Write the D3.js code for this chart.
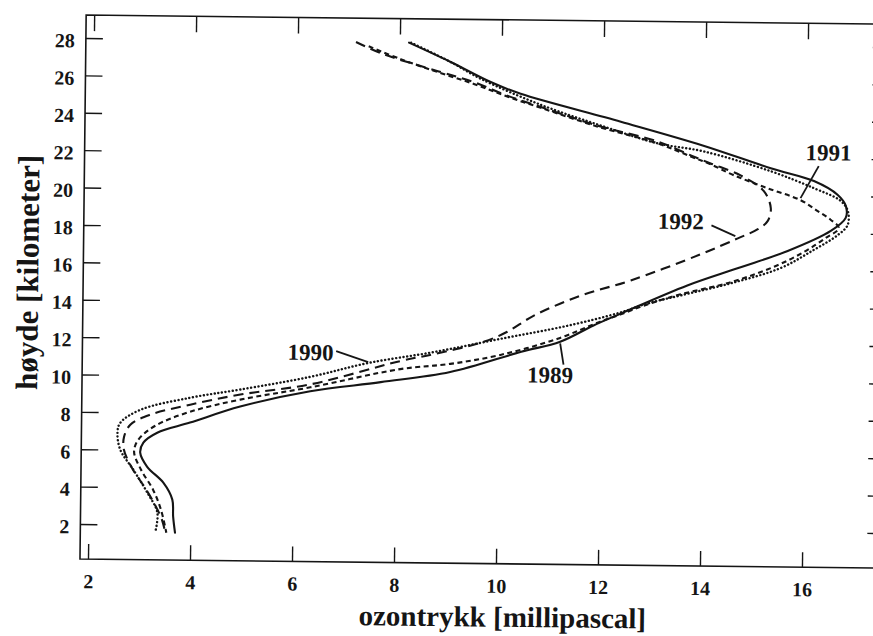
<!DOCTYPE html>
<html><head><meta charset="utf-8">
<script src="https://cdn.jsdelivr.net/npm/d3@7"></script>
<style>body{margin:0;background:#fff}svg{display:block}</style>
</head><body><svg id="c" width="873" height="636"></svg>
<script>
// ---- data (ozone partial pressure [mPa] vs altitude [km]) ----
const xTicks = [2, 4, 6, 8, 10, 12, 14, 16];
const yTicks = [2, 4, 6, 8, 10, 12, 14, 16, 18, 20, 22, 24, 26, 28];
const xTitle = "ozontrykk [millipascal]";
const yTitle = "høyde [kilometer]";
const years = ["1989", "1990", "1991", "1992"];

const s1989 = [[8.18,27.95],[9.0,26.94],[9.79,25.89],[10.38,25.28],[12.35,23.85],[13.96,22.63],[15.3,21.45],[16.15,20.79],[16.62,20.06],[16.78,19.48],[16.78,18.84],[16.49,18.13],[15.65,17.03],[14.67,16.08],[13.69,15.13],[12.39,13.58],[11.86,12.93],[11.21,12.04],[10.45,11.48],[9.06,10.35],[7.7,9.77],[6.32,9.24],[4.95,8.38],[3.97,7.49],[3.33,6.93],[3.06,6.39],[3.0,5.85],[3.14,5.10],[3.46,4.26],[3.64,3.36],[3.66,2.45],[3.70,1.59]];
const s1990 = [[8.22,27.95],[9.0,26.94],[9.6,26.05],[10.78,24.70],[11.96,23.63],[13.08,22.71],[13.98,22.31],[15.30,21.29],[16.15,20.41],[16.68,19.74],[16.82,19.21],[16.82,18.46],[16.63,17.92],[16.12,17.04],[15.51,16.11],[14.54,15.27],[13.56,14.59],[12.91,14.14],[12.38,13.64],[11.35,12.90],[10.04,12.16],[8.73,11.41],[7.44,10.78],[6.3,10.0],[4.95,9.29],[3.97,8.82],[2.99,8.14],[2.60,7.43],[2.55,6.90],[2.61,5.99],[2.87,4.93],[3.15,3.71],[3.35,2.65],[3.31,1.58]];
const s1991 = [[7.39,27.73],[8.02,27.06],[8.75,26.39],[9.46,25.78],[10.13,25.11],[10.78,24.54],[11.90,23.57],[13.08,22.71],[13.73,22.03],[14.12,21.62],[14.58,21.05],[15.24,20.38],[15.89,19.76],[16.23,19.19],[16.49,18.72],[16.65,18.29],[16.39,17.75],[16.0,17.04],[15.41,16.21],[14.54,15.33],[13.56,14.65],[12.91,14.09],[12.38,13.53],[11.99,13.14],[11.16,12.20],[10.04,11.30],[9.06,10.79],[8.08,10.48],[6.32,9.45],[4.95,8.75],[3.97,8.07],[3.29,7.30],[2.96,6.54],[2.88,5.89],[3.02,4.94],[3.26,3.88],[3.42,2.81],[3.53,1.58]];
const s1992 = [[7.14,27.95],[7.69,27.31],[8.75,26.44],[9.46,25.88],[10.13,25.16],[10.78,24.59],[11.90,23.62],[13.08,22.81],[13.73,22.09],[14.12,21.67],[14.71,21.05],[15.17,20.22],[15.31,19.31],[15.25,18.62],[15.06,18.18],[14.67,17.68],[13.94,16.80],[12.58,15.36],[11.60,14.52],[10.68,13.41],[10.17,12.54],[9.70,11.98],[8.73,11.30],[8.08,10.91],[6.32,9.61],[4.95,9.02],[3.97,8.45],[3.19,7.89],[2.80,7.34],[2.68,6.69],[2.68,6.0],[2.84,5.04],[3.10,3.98],[3.30,3.08],[3.44,2.28],[3.51,1.59]];

// annotation anchors (data units): label point and leader line
const annYears   = ["1991", "1992", "1990", "1989"];
const annText    = [[15.98,21.9],[14.0,18.14],[6.77,10.91],[11.02,9.84]];
const annLeaders = [[[16.24,21.59],[15.89,19.87]],[[14.15,18.36],[14.62,17.8]],[[6.82,11.40],[7.45,10.83]],[[11.21,11.95],[11.28,10.82]]];

// ---- drawing ----
const W = 873, H = 636;
const FONT = "'Liberation Serif','Times New Roman',serif";
const INK = "#151515";
const svg = d3.select("#c");
svg.append("rect").attr("width", W).attr("height", H).attr("fill", "#fff");
const g = svg.append("g").attr("transform", "rotate(0.65,81,558)");

const x = d3.scaleLinear().domain([2, 16]).range([88, 802]);
const y = d3.scaleLinear().domain([2, 28]).range([524, 38]);
const L = 80, R = 882, T = 15, B = 559;

// frame
g.append("path")
  .attr("d", `M${R},${T}H${L}V${B}H${R}`)
  .attr("fill", "none").attr("stroke", INK).attr("stroke-width", 1.6);

function styleAxis(sel) {
  sel.select(".domain").remove();
  sel.selectAll(".tick line").attr("stroke", INK).attr("stroke-width", 1.4);
  sel.selectAll(".tick text").attr("fill", INK)
    .attr("font-family", FONT).attr("font-weight", "bold").attr("font-size", 20);
}
g.append("g").attr("transform", `translate(0,${B})`)
  .call(d3.axisBottom(x).tickValues(xTicks).tickSize(-15).tickPadding(15).tickFormat(d3.format("d")))
  .call(styleAxis);
g.append("g").attr("transform", `translate(0,${T})`)
  .call(d3.axisTop(x).tickValues(xTicks).tickSize(-16).tickFormat(""))
  .call(styleAxis);
const ly = g.append("g").attr("transform", `translate(${L},0)`)
  .call(d3.axisLeft(y).tickValues(yTicks).tickSize(-17).tickPadding(11).tickFormat(d3.format("d")))
  .call(styleAxis);
ly.selectAll(".tick text").attr("dy", "0.45em");
g.append("g").attr("transform", `translate(${R},0)`)
  .call(d3.axisRight(y).tickValues(yTicks).tickSize(-15).tickFormat(""))
  .call(styleAxis);

// titles
g.append("text").text(xTitle)
  .attr("x", 503).attr("y", 622).attr("text-anchor", "middle")
  .attr("font-family", FONT).attr("font-weight", "bold").attr("font-size", 29).attr("fill", INK);
g.append("text").text(yTitle)
  .attr("transform", "translate(35,273) rotate(-90)").attr("text-anchor", "middle")
  .attr("font-family", FONT).attr("font-weight", "bold").attr("font-size", 31).attr("fill", INK);

// series
const line = d3.line().x(d => x(d[0])).y(d => y(d[1])).curve(d3.curveCatmullRom.alpha(0.5));
const seriesData = [s1989, s1990, s1991, s1992];
const dash = ["none", "0.1,3.6", "5,3.5", "10,6"];
const widths = [2.1, 2.4, 2.1, 2.1];
const caps = ["round", "round", "butt", "butt"];
g.selectAll("path.series").data(seriesData).join("path")
  .attr("class", "series")
  .attr("d", line)
  .attr("fill", "none").attr("stroke", INK)
  .attr("stroke-width", (d, i) => widths[i])
  .attr("stroke-dasharray", (d, i) => dash[i])
  .attr("stroke-linecap", (d, i) => caps[i])
  .attr("stroke-linejoin", "round");

// annotations
const anchors = ["start", "end", "end", "middle"];
annYears.forEach((yr, i) => {
  const seg = annLeaders[i];
  g.append("line")
    .attr("x1", x(seg[0][0])).attr("y1", y(seg[0][1]))
    .attr("x2", x(seg[1][0])).attr("y2", y(seg[1][1]))
    .attr("stroke", INK).attr("stroke-width", 1.8);
  g.append("text").text(yr)
    .attr("x", x(annText[i][0])).attr("y", y(annText[i][1]))
    .attr("text-anchor", anchors[i])
    .attr("font-family", FONT).attr("font-weight", "bold").attr("font-size", 23)
    .attr("fill", INK);
});
</script></body></html>
